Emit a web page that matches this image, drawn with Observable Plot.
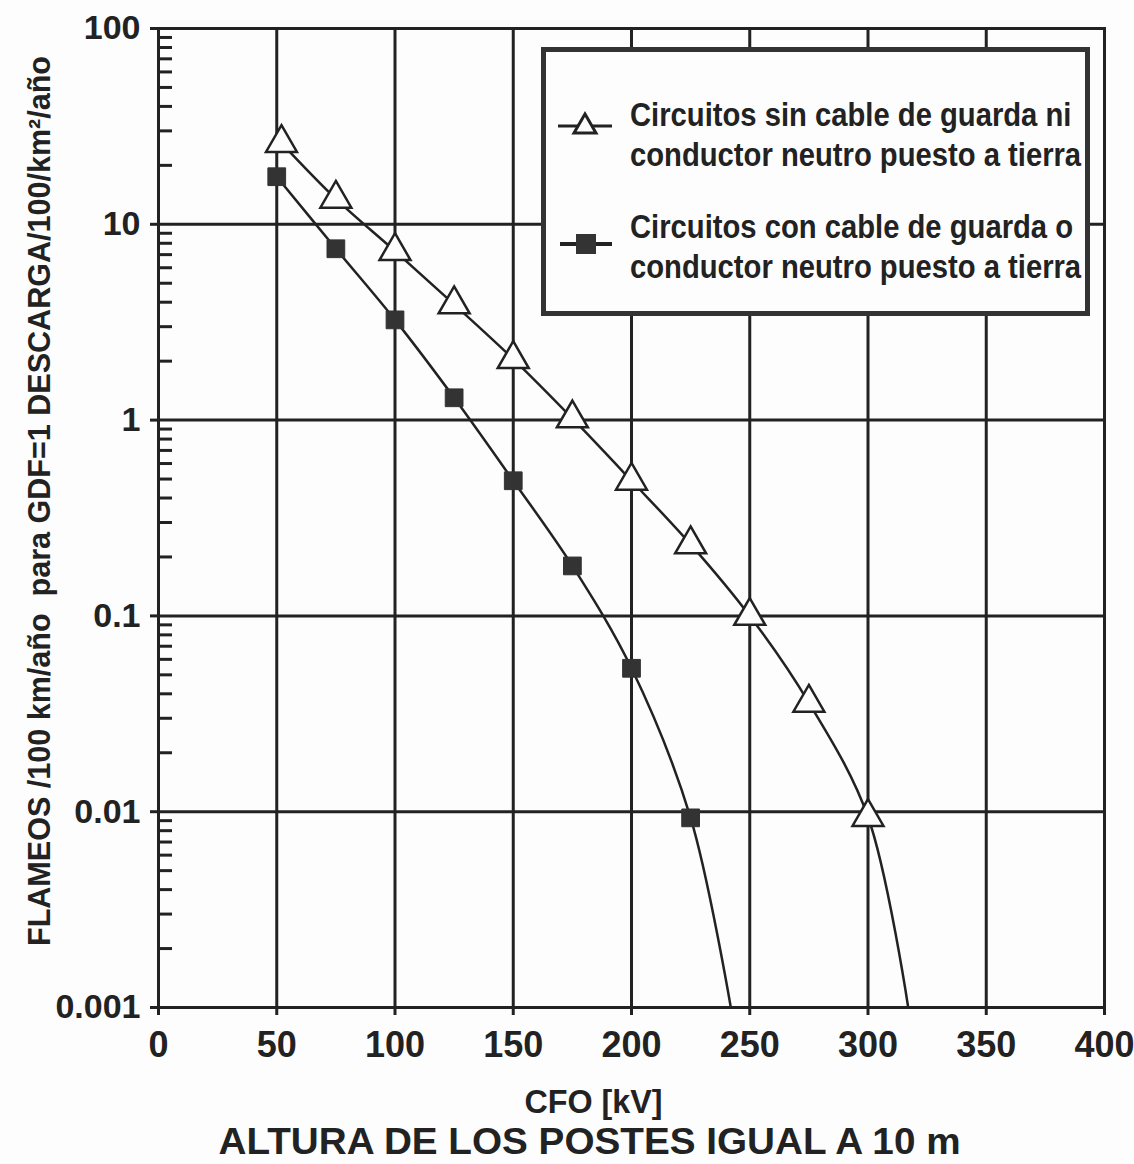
<!DOCTYPE html>
<html>
<head>
<meta charset="utf-8">
<script src="https://cdn.jsdelivr.net/npm/d3@7"></script>
<script src="https://cdn.jsdelivr.net/npm/@observablehq/plot@0.6"></script>
<style>
  html, body { margin: 0; padding: 0; background: #fdfdfd; }
  #wrap { position: relative; width: 1134px; height: 1164px; }
  .font { font-family: "Liberation Sans Narrow", "Arial Narrow", "Liberation Sans", Arial, sans-serif; font-weight: bold; color: #222; }
  #legend { position: absolute; left: 541px; top: 47px; width: 539px; height: 259px; border: 5px solid #333; background: #fdfdfd; }
  .entry { position: absolute; left: 84px; font-size: 33px; line-height: 40px; white-space: nowrap; transform: scaleX(0.885); transform-origin: 0 0; }
  .sym { position: absolute; left: 10px; }
</style>
</head>
<body>
<div id="wrap" class="font"></div>
<script>
// Series 1: circuits without guard cable / grounded neutral (open triangles)
const cfoTri = [52, 75, 100, 125, 150, 175, 200, 225, 250, 275, 300];
const flameoTri = [26, 13.5, 7.3, 3.9, 2.05, 1.02, 0.49, 0.232, 0.1, 0.036, 0.0094];
const tailCfoTri = [317];          // curve reaches 0.001
// Series 2: circuits with guard cable / grounded neutral (filled squares)
const cfoSq = [50, 75, 100, 125, 150, 175, 200, 225];
const flameoSq = [17.5, 7.5, 3.25, 1.3, 0.49, 0.18, 0.054, 0.0093];
const tailCfoSq = [242];
const tailFlameo = [0.001];

const xTicks = [0, 50, 100, 150, 200, 250, 300, 350, 400];
const yMajor = [100, 10, 1, 0.1, 0.01, 0.001];
const yMinor = [];
for (let e = -3; e < 2; e++) for (let m = 2; m <= 9; m++) yMinor.push(+(m * Math.pow(10, e)).toPrecision(3));

const yTitle = "FLAMEOS /100 km/año  para GDF=1 DESCARGA/100/km²/año";
const xTitle1 = "CFO [kV]";
const xTitle2 = "ALTURA DE LOS POSTES IGUAL A 10 m";
const legendLabels = [
  ["Circuitos sin cable de guarda ni", "conductor neutro puesto a tierra"],
  ["Circuitos con cable de guarda o", "conductor neutro puesto a tierra"]
];

const tri = cfoTri.map((x, i) => ({x, y: flameoTri[i]}));
const sq = cfoSq.map((x, i) => ({x, y: flameoSq[i]}));
const triLine = tri.concat(tailCfoTri.map((x, i) => ({x, y: tailFlameo[i]})));
const sqLine = sq.concat(tailCfoSq.map((x, i) => ({x, y: tailFlameo[i]})));

const ink = "#222";
const fontFam = '"Liberation Sans Narrow", "Arial Narrow", "Liberation Sans", Arial, sans-serif';

const chart = Plot.plot({
  width: 1134,
  height: 1164,
  marginLeft: 158,
  marginRight: 30,
  marginTop: 28,
  marginBottom: 157,
  style: {fontFamily: fontFam, fontWeight: "bold", color: ink, background: "transparent"},
  x: {domain: [0, 400]},
  y: {type: "log", domain: [0.001, 100]},
  marks: [
    Plot.gridX(xTicks.slice(1, -1), {stroke: ink, strokeOpacity: 1, strokeWidth: 3}),
    Plot.gridY([10, 1, 0.1, 0.01], {stroke: ink, strokeOpacity: 1, strokeWidth: 3}),
    Plot.frame({stroke: ink, strokeWidth: 3}),
    Plot.axisY(yMinor, {tickSize: -14, tickFormat: () => "", strokeWidth: 3, label: null, stroke: ink}),
    Plot.axisY(yMajor, {tickSize: 8, tickPadding: 10, tickFormat: d => String(d), strokeWidth: 3, label: null, fontSize: 34, fill: ink, stroke: ink}),
    Plot.axisX(xTicks, {tickSize: 8, tickPadding: 16, strokeWidth: 3, label: null, fontSize: 36, fill: ink, stroke: ink}),
    Plot.line(triLine, {x: "x", y: "y", curve: "catmull-rom", stroke: ink, strokeWidth: 2.5}),
    Plot.line(sqLine, {x: "x", y: "y", curve: "catmull-rom", stroke: ink, strokeWidth: 2.5}),
    Plot.dot(tri, {x: "x", y: "y", symbol: "triangle", r: 11.5, fill: "#fdfdfd", stroke: ink, strokeWidth: 2.5}),
    Plot.dot(sq, {x: "x", y: "y", symbol: "square", r: 10, fill: "#333", stroke: "#333", strokeWidth: 1}),
    Plot.text([yTitle], {text: d => d, frameAnchor: "left", textAnchor: "middle", dx: -118, dy: -17, rotate: -90, fontSize: 31, fill: ink}),
    Plot.text([xTitle1], {text: d => d, frameAnchor: "bottom", dx: -38, dy: 105, fontSize: 34, fill: ink}),
    Plot.text([xTitle2], {text: d => d, frameAnchor: "bottom", dx: -42, dy: 146, fontSize: 36, fill: ink})
  ]
});
const wrap = document.getElementById("wrap");
wrap.appendChild(chart);

// condense long titles to the reference's narrow lettering
d3.select(chart).selectAll("text").each(function() {
  const t = this.textContent;
  let w = null;
  if (t.startsWith("FLAMEOS")) w = 890;
  else if (t.startsWith("ALTURA")) w = 742;
  else if (t.startsWith("CFO")) w = 138;
  if (w) d3.select(this).attr("textLength", w).attr("lengthAdjust", "spacingAndGlyphs");
});

// legend overlay
const legend = document.createElement("div");
legend.id = "legend";
const symSvg = [
  `<svg width="60" height="30" viewBox="0 0 60 30"><line x1="2" y1="17" x2="56" y2="17" stroke="${ink}" stroke-width="3"/><path d="M29,5 L40,24 L18,24 Z" fill="#fdfdfd" stroke="${ink}" stroke-width="3"/></svg>`,
  `<svg width="60" height="30" viewBox="0 0 60 30"><line x1="4" y1="15" x2="56" y2="15" stroke="${ink}" stroke-width="4"/><rect x="20" y="5" width="20" height="20" fill="#333"/></svg>`
];
const entryTop = [43, 155];
const symTop = [57, 177];
legendLabels.forEach((lines, i) => {
  const s = document.createElement("div");
  s.className = "sym";
  s.style.top = symTop[i] + "px";
  s.innerHTML = symSvg[i];
  legend.appendChild(s);
  const e = document.createElement("div");
  e.className = "entry";
  e.style.top = entryTop[i] + "px";
  e.innerHTML = lines.join("<br>");
  legend.appendChild(e);
});
wrap.appendChild(legend);
</script>
</body>
</html>
